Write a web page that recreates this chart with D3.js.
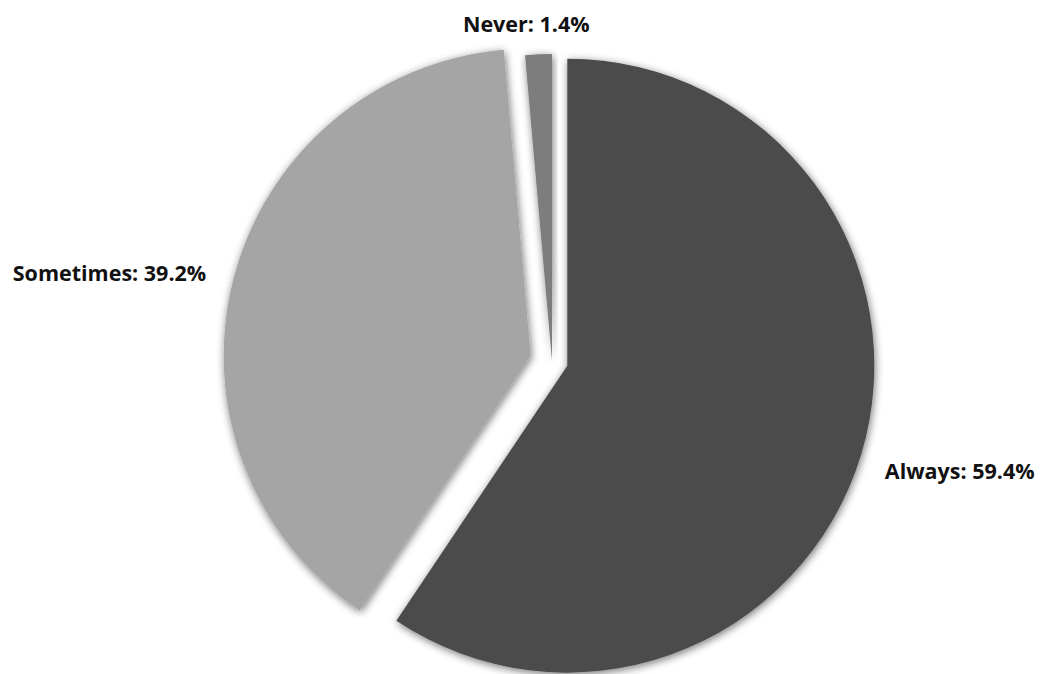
<!DOCTYPE html>
<html>
<head>
<meta charset="utf-8">
<script src="https://cdn.jsdelivr.net/npm/d3@7"></script>
<style>
  html, body { margin: 0; padding: 0; background: #ffffff; }
  svg { display: block; }
  text { font-family: "Open Sans", Lato, sans-serif; font-weight: bold; fill: #111; }
</style>
</head>
<body>
<svg id="chart" width="1040" height="674"></svg>
<script>
// ---- data ----
const categories = ["Always", "Sometimes", "Never"];
const values = [59.4, 39.2, 1.4];
const labels = ["Always: 59.4%", "Sometimes: 39.2%", "Never: 1.4%"];

// ---- layout / style ----
const width = 1040, height = 674;
const cx = 552, cy = 361, radius = 307;
const explode = [16, 22, 0];
const labelShift = [[-3, 7], [0, 0], [-11, -3]];
const colors = d3.scaleOrdinal().domain(categories).range(["#4b4b4b", "#a5a5a5", "#7d7d7d"]);

const svg = d3.select("#chart");
const defs = svg.append("defs");
const f = defs.append("filter").attr("id", "shadow")
  .attr("x", "-20%").attr("y", "-20%").attr("width", "140%").attr("height", "140%");
f.append("feGaussianBlur").attr("in", "SourceAlpha").attr("stdDeviation", 4).attr("result", "b");
f.append("feOffset").attr("in", "b").attr("dx", 1).attr("dy", 2).attr("result", "o");
f.append("feComponentTransfer").attr("in", "o").attr("result", "s")
  .append("feFuncA").attr("type", "linear").attr("slope", 0.55);
const m = f.append("feMerge");
m.append("feMergeNode").attr("in", "s");
m.append("feMergeNode").attr("in", "SourceGraphic");

const pie = d3.pie().sort(null).value(d => d.value);
const data = pie(categories.map((c, i) => ({ cat: c, value: values[i], label: labels[i], i })));
const arc = d3.arc().innerRadius(0).outerRadius(radius);

const g = svg.append("g").attr("transform", `translate(${cx},${cy})`);

function offset(d) {
  const a = (d.startAngle + d.endAngle) / 2;
  const e = explode[d.data.i];
  return [Math.sin(a) * e, -Math.cos(a) * e];
}

g.selectAll("path.slice").data(data).enter().append("path")
  .attr("class", "slice")
  .attr("d", arc)
  .attr("fill", d => colors(d.data.cat))
  .attr("filter", "url(#shadow)")
  .attr("transform", d => { const o = offset(d); return `translate(${o[0]},${o[1]})`; });

const labelR = radius + 28;
g.selectAll("text.lbl").data(data).enter().append("text")
  .attr("class", "lbl")
  .attr("font-size", 21.5)
  .attr("dominant-baseline", "central")
  .attr("text-anchor", d => {
    const a = (d.startAngle + d.endAngle) / 2;
    const s = Math.sin(a);
    return Math.abs(s) < 0.2 ? "middle" : (s > 0 ? "start" : "end");
  })
  .attr("x", d => { const a = (d.startAngle + d.endAngle) / 2; const o = offset(d); return o[0] + Math.sin(a) * labelR; })
  .attr("y", d => { const a = (d.startAngle + d.endAngle) / 2; const o = offset(d); return o[1] - Math.cos(a) * labelR; })
  .attr("dx", d => labelShift[d.data.i][0])
  .attr("dy", d => labelShift[d.data.i][1])
  .text(d => d.data.label);
</script>
</body>
</html>
